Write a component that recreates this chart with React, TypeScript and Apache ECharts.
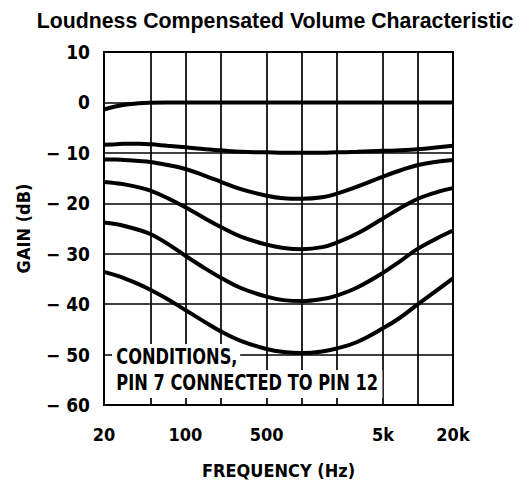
import React, { useEffect, useRef } from "react";
import * as echarts from "echarts";

const freqs = [20, 25, 30, 40, 50, 70, 100, 150, 200, 300, 500, 700, 1000, 1500, 2000, 3000, 5000, 7000, 10000, 15000, 20000];

const curve0 = [-1.4, -0.8, -0.45, -0.15, -0.05, 0, 0, 0, 0, 0, 0, 0, 0, 0, 0, 0, 0, 0, 0, 0, 0];
const curve10 = [-8.4, -8.3, -8.2, -8.2, -8.3, -8.6, -8.9, -9.3, -9.5, -9.8, -9.9, -10, -10, -10, -9.9, -9.8, -9.6, -9.5, -9.3, -8.9, -8.6];
const curve20 = [-11.3, -11.3, -11.4, -11.6, -11.8, -12.4, -13.2, -14.6, -15.7, -17.2, -18.5, -19, -19.1, -18.8, -18.1, -16.7, -14.7, -13.5, -12.4, -11.7, -11.4];
const curve30 = [-15.8, -16, -16.25, -16.85, -17.5, -18.95, -20.8, -23.1, -24.65, -26.6, -28.2, -28.85, -29.1, -28.7, -27.8, -26, -23, -21, -19.1, -17.7, -17];
const curve40 = [-23.8, -24.1, -24.5, -25.3, -26.1, -28, -30.4, -33, -34.7, -36.8, -38.5, -39.2, -39.4, -39, -38.3, -36.7, -33.8, -31.5, -29, -26.8, -25.4];
const curve50 = [-33.6, -34.26, -34.9, -36.07, -37.13, -38.96, -41.15, -43.66, -45.35, -47.27, -48.9, -49.5, -49.7, -49.4, -48.8, -47.5, -44.8, -42.7, -40, -37, -34.9];

const gridFreqs = [20, 50, 100, 200, 500, 1000, 2000, 5000, 10000, 20000];
const labeledFreqs = [20, 100, 500, 5000, 20000];
const freqLabels = ["20", "100", "500", "5k", "20k"];

const yTicks = { min: -60, max: 10, interval: 10 };

const titleText = "Loudness Compensated Volume Characteristic";
const xName = "FREQUENCY (Hz)";
const yName = "GAIN (dB)";
const noteLines = ["CONDITIONS,", "PIN 7 CONNECTED TO PIN 12"];

const NARROW = "'DejaVu Sans Condensed', 'Liberation Sans Narrow', sans-serif";

export default function App() {
  const ref = useRef<HTMLDivElement>(null);
  useEffect(() => {
    document.body.style.margin = "0";
    if (!ref.current) return;
    const chart = echarts.init(ref.current, undefined, { renderer: "svg" });
    const curves = [curve0, curve10, curve20, curve30, curve40, curve50];
    const series: any[] = curves.map((c) => ({
      type: "line",
      smooth: 0.4,
      symbol: "none",
      data: freqs.map((f, j) => [f, c[j]]),
      lineStyle: { color: "#000", width: 4 },
      z: 3,
    }));
    series.push({
      type: "line",
      data: [],
      symbol: "none",
      z: 2,
      markLine: {
        silent: true,
        symbol: ["none", "none"],
        animation: false,
        lineStyle: { color: "#000", width: 1.7, type: "solid" },
        data: gridFreqs.map((f) => {
          const idx = labeledFreqs.indexOf(f);
          return {
            xAxis: f,
            label: idx >= 0
              ? {
                  show: true,
                  position: "start",
                  distance: 20,
                  formatter: freqLabels[idx],
                  color: "#000",
                  fontFamily: NARROW,
                  fontWeight: "bold",
                  fontSize: 18,
                }
              : { show: false },
          };
        }),
      },
    });
    const noteStyle = {
      fill: "#000",
      font: "bold 21px " + NARROW,
      lineHeight: 24,
      backgroundColor: "#fff",
    };
    chart.setOption({
      animation: false,
      backgroundColor: "#fff",
      grid: {
        left: 104, right: 74, top: 52, bottom: 75,
        containLabel: false, outerBoundsMode: "none",
        show: true, borderColor: "#000", borderWidth: 2, backgroundColor: "transparent",
      },
      xAxis: {
        type: "log",
        logBase: 10,
        min: 20,
        max: 20000,
        axisLine: { show: false },
        axisTick: { show: false },
        axisLabel: { show: false },
        splitLine: { show: false },
        minorSplitLine: { show: false },
        name: xName,
        nameLocation: "middle",
        nameGap: 56,
        nameTextStyle: { fontFamily: NARROW, fontWeight: "bold", fontSize: 18, color: "#000" },
      },
      yAxis: {
        type: "value",
        min: yTicks.min,
        max: yTicks.max,
        interval: yTicks.interval,
        axisLine: { show: false },
        axisTick: { show: false },
        splitLine: { show: true, lineStyle: { color: "#000", width: 1.7 } },
        axisLabel: {
          margin: 14,
          color: "#000",
          fontFamily: NARROW,
          fontWeight: "bold",
          fontSize: 19,
          formatter: (v: number) => (v < 0 ? "\u2212 " + Math.abs(v) : String(v)),
        },
        name: yName,
        nameLocation: "middle",
        nameGap: 72,
        nameTextStyle: { fontFamily: NARROW, fontWeight: "bold", fontSize: 18, color: "#000" },
      },
      graphic: [
        {
          type: "text",
          x: 275,
          y: 21,
          style: {
            text: titleText,
            fill: "#000",
            font: "bold 21.3px 'Liberation Sans', Arial, sans-serif",
            textAlign: "center",
            textVerticalAlign: "middle",
          },
        },
        {
          type: "text",
          x: 112,
          y: 344,
          z: 100,
          scaleX: 0.86,
          style: { ...noteStyle, text: noteLines[0], padding: [1, 3, 1, 5] },
        },
        {
          type: "text",
          x: 112,
          y: 370,
          z: 100,
          scaleX: 0.86,
          style: { ...noteStyle, text: noteLines[1], padding: [1, 5, 3, 5] },
        },
      ],
      series,
    });
    return () => chart.dispose();
  }, []);
  return <div ref={ref} style={{ width: 527, height: 480 }} />;
}
